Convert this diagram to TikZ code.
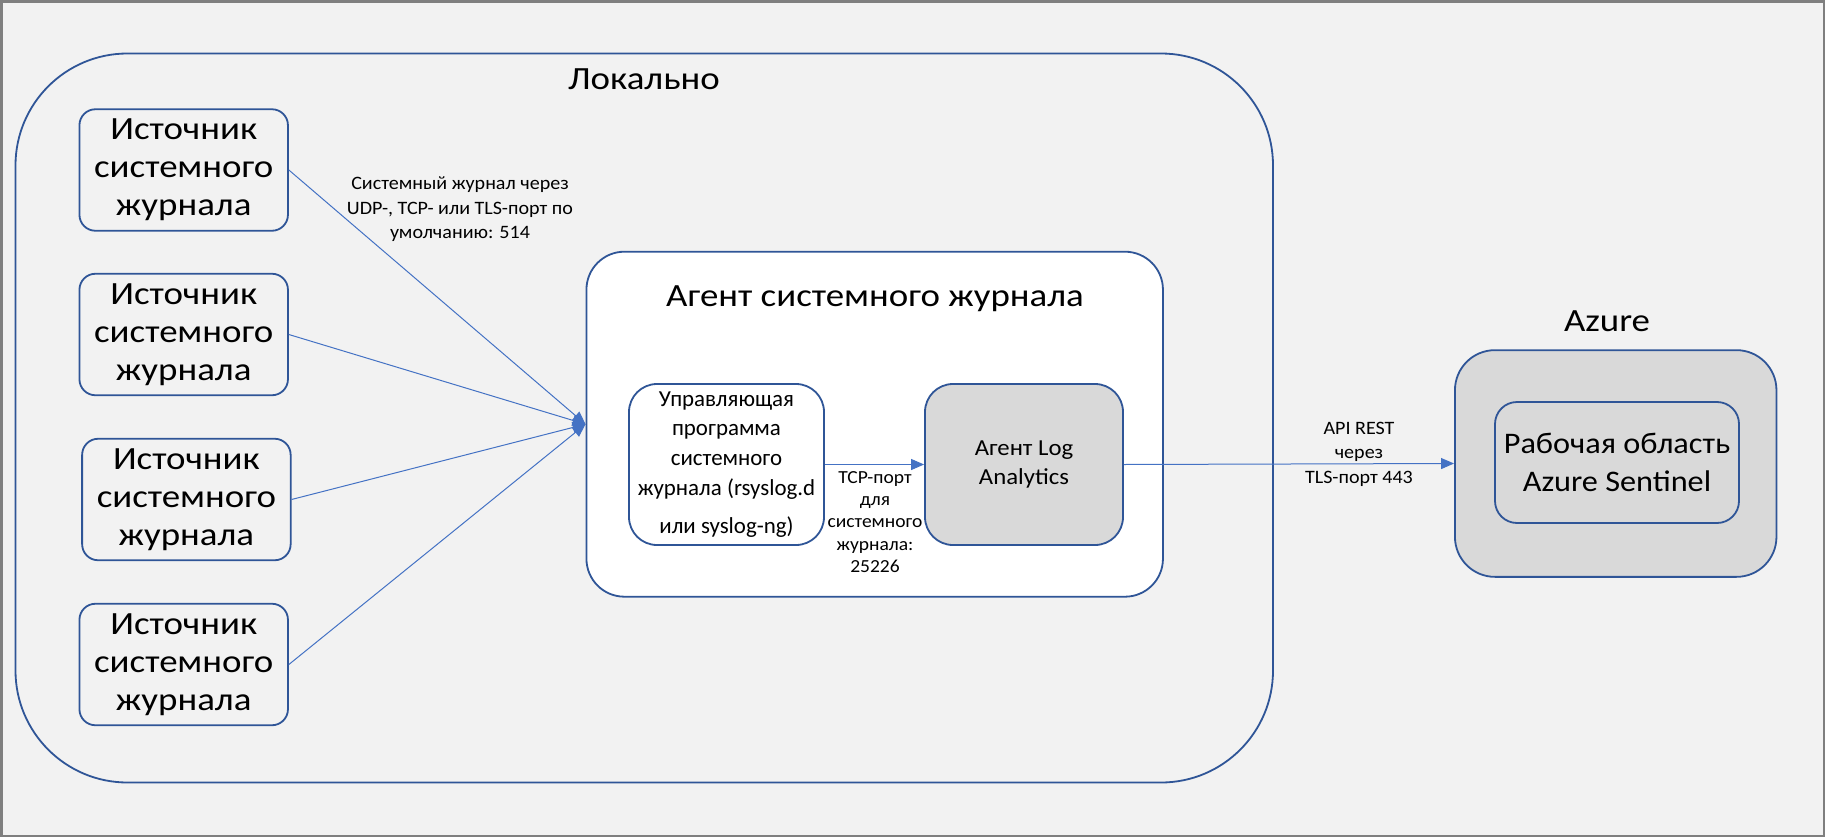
\documentclass[tikz,border=0pt]{standalone}
\usepackage{fontspec}
\setmainfont{Carlito}
\newfontfamily\bigf{Carlito}[FakeStretch=1.14]
\newfontfamily\medf{Carlito}[FakeStretch=1.08]
\newfontfamily\smlf{Carlito}[FakeStretch=1.06]
\usetikzlibrary{arrows.meta}
\definecolor{bgc}{HTML}{F2F2F2}
\definecolor{framec}{HTML}{7F7F7F}
\definecolor{boxc}{HTML}{2F5597}
\definecolor{arrc}{HTML}{4472C4}
\definecolor{grayfill}{HTML}{D9D9D9}
\tikzset{
  boxline/.style={draw=boxc, line width=1.8bp},
  srcbox/.style={boxline, fill=bgc, rounded corners=16bp, minimum width=208.5bp, minimum height=121.5bp, inner sep=0pt, align=center, font=\bigf\fontsize{32.5}{38.3}\selectfont},
  midbox/.style={boxline, rounded corners=28bp, minimum width=196bp, minimum height=161bp, inner sep=0pt, align=center, font=\fontsize{23}{30}\selectfont},
  conn/.style={draw=arrc, line width=1bp, -{Triangle[length=13bp,width=11bp]}},
  lbl/.style={align=center, inner sep=0pt, font=\smlf\fontsize{19}{24.5}\selectfont},
  ttl/.style={inner sep=0pt, anchor=base, font=\bigf\fontsize{32.5}{38}\selectfont}
}
\begin{document}
\begin{tikzpicture}[x=1bp,y=-1bp]
\useasboundingbox (0,0) rectangle (1825,837);
\fill[bgc] (0,0) rectangle (1825,837);
\draw[framec, line width=2.5bp] (1.25,1.25) rectangle (1823.75,835.75);
% local area
\node[boxline, fill=bgc, rounded corners=112bp, minimum width=1257.5bp, minimum height=729bp, inner sep=0pt] (local) at (644.25,418) {};
\node[ttl] (localt) at (644,89) {Локально};
% sources
\node[srcbox] (s1) at (183.7,170) {Источник\\системного\\журнала};
\node[srcbox] (s2) at (183.7,334.5) {Источник\\системного\\журнала};
\node[srcbox] (s3) at (186.4,499.5) {Источник\\системного\\журнала};
\node[srcbox] (s4) at (183.7,664.5) {Источник\\системного\\журнала};
% agent
\node[boxline, fill=white, rounded corners=38bp, minimum width=576.5bp, minimum height=345bp, inner sep=0pt] (agent) at (874.7,424.2) {};
\node[ttl] (agentt) at (875,306.7) {Агент системного журнала};
\node[midbox, fill=white, minimum width=195bp] (upr) at (726.5,464.5) {Управляющая\\программа\\системного\\журнала (rsyslog.d\\[8bp]или syslog-ng)};
\node[midbox, fill=grayfill, minimum width=198bp, font=\medf\fontsize{23}{30}\selectfont] (loga) at (1024,464.5) {Агент Log\\Analytics};
% azure
\node[ttl] (azuret) at (1607,331.7) {Azure};
\node[boxline, fill=grayfill, rounded corners=40bp, minimum width=321.5bp, minimum height=226.7bp, inner sep=0pt] (azure) at (1615.7,463.5) {};
\node[boxline, fill=grayfill, rounded corners=22bp, minimum width=244bp, minimum height=121bp, inner sep=0pt, align=center, font=\medf\fontsize{30}{39}\selectfont] (sentinel) at (1617,462.5) {Рабочая область\\Azure Sentinel};
% connectors
\foreach \s in {s1,s2,s3,s4} \draw[conn] (\s.east) -- (agent.west);
\draw[conn] (upr.east) -- (loga.west);
\draw[conn] (loga.east) -- (azure.west);
% labels
\node[lbl] (l1) at (460,209.5) {Системный журнал через\\UDP-, TCP- или TLS-порт по\\умолчанию: 514};
\node[lbl, font=\smlf\fontsize{18.5}{22.5}\selectfont, anchor=north] (l2) at (875,471) {TCP-порт\\для\\системного\\журнала:\\25226};
\node[lbl] (l3) at (1359,454) {API REST\\через\\TLS-порт 443};
\end{tikzpicture}
\end{document}
